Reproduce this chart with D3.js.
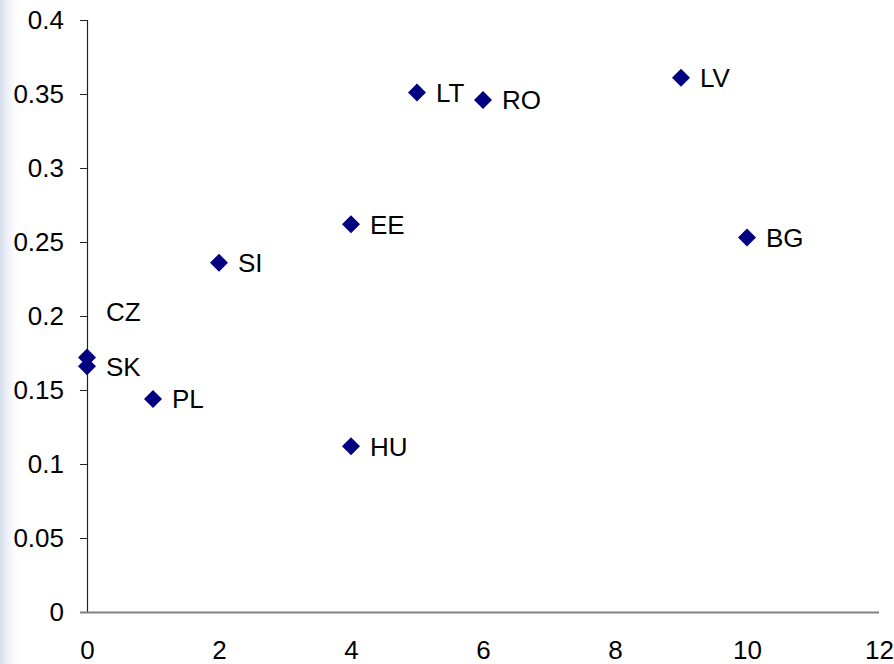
<!DOCTYPE html>
<html>
<head>
<meta charset="utf-8">
<script src="https://cdn.jsdelivr.net/npm/d3@7"></script>
<style>
  body { margin: 0; background: #fff; }
  svg { display: block; font-family: "Liberation Sans", Arial, sans-serif; }
</style>
</head>
<body>
<svg id="chart" width="894" height="664"></svg>
<script>
// data
const countries = ['CZ', 'SK', 'PL', 'SI', 'EE', 'HU', 'LT', 'RO', 'LV', 'BG'];
const xValues = [0, 0, 1, 2, 4, 4, 5, 6, 9, 10];
const yValues = [0.172, 0.166, 0.144, 0.236, 0.262, 0.112, 0.351, 0.346, 0.361, 0.253];
const xTicks = [0, 2, 4, 6, 8, 10, 12];
const yTicks = [0, 0.05, 0.1, 0.15, 0.2, 0.25, 0.3, 0.35, 0.4];

const svg = d3.select('#chart');
const margin = {top: 20, right: 15, bottom: 52, left: 87};
const width = 894, height = 664;
const fontSize = '26px';

// faint decorative strip on the left edge
const grad = svg.append('defs').append('linearGradient').attr('id', 'edge');
grad.append('stop').attr('offset', '0%').attr('stop-color', '#c9d3e6').attr('stop-opacity', 0.8);
grad.append('stop').attr('offset', '100%').attr('stop-color', '#ffffff').attr('stop-opacity', 0);
svg.append('rect').attr('x', 0).attr('y', 0).attr('width', 22).attr('height', height)
    .attr('fill', 'url(#edge)');

const x = d3.scaleLinear().domain([0, 12]).range([margin.left, 879]);
const y = d3.scaleLinear().domain([0, 0.4]).range([612, margin.top]);

// y axis
const yAxis = svg.append('g')
    .attr('transform', `translate(${margin.left},0)`)
    .call(d3.axisLeft(y).tickValues(yTicks).tickSize(7).tickPadding(16)
        .tickFormat(d => d3.format('')(+d.toFixed(2))));
yAxis.select('.domain').attr('stroke', '#222').attr('stroke-width', 1.2);
yAxis.selectAll('.tick line').attr('stroke', '#222');
yAxis.selectAll('.tick text').style('font-size', fontSize).attr('fill', '#000')
    .style('font-family', '"Liberation Sans", Arial, sans-serif');

// x axis (grey line, no tick marks)
const xAxis = svg.append('g')
    .attr('transform', `translate(0,${y(0)})`)
    .call(d3.axisBottom(x).tickValues(xTicks).tickSize(0).tickPadding(29));
xAxis.select('.domain').attr('stroke', '#808080').attr('stroke-width', 2)
    .attr('d', `M${margin.left - 7},0.5H${x(12)}`);
xAxis.selectAll('.tick text').style('font-size', fontSize).attr('fill', '#000')
    .style('font-family', '"Liberation Sans", Arial, sans-serif');

const points = countries.map((c, i) => ({name: c, x: xValues[i], y: yValues[i]}));

// CZ label sits above its marker in the original
const labelShift = {CZ: -46};

svg.append('g').selectAll('path')
    .data(points)
    .join('path')
    .attr('d', d3.symbol().type(d3.symbolSquare).size(162))
    .attr('transform', d => `translate(${x(d.x)},${y(d.y)}) rotate(45)`)
    .attr('fill', '#000080');

svg.append('g').selectAll('text')
    .data(points)
    .join('text')
    .attr('x', d => x(d.x) + 19)
    .attr('y', d => y(d.y) + (labelShift[d.name] || 0))
    .attr('dy', '0.36em')
    .style('font-size', fontSize)
    .attr('fill', '#000')
    .text(d => d.name);
</script>
</body>
</html>
